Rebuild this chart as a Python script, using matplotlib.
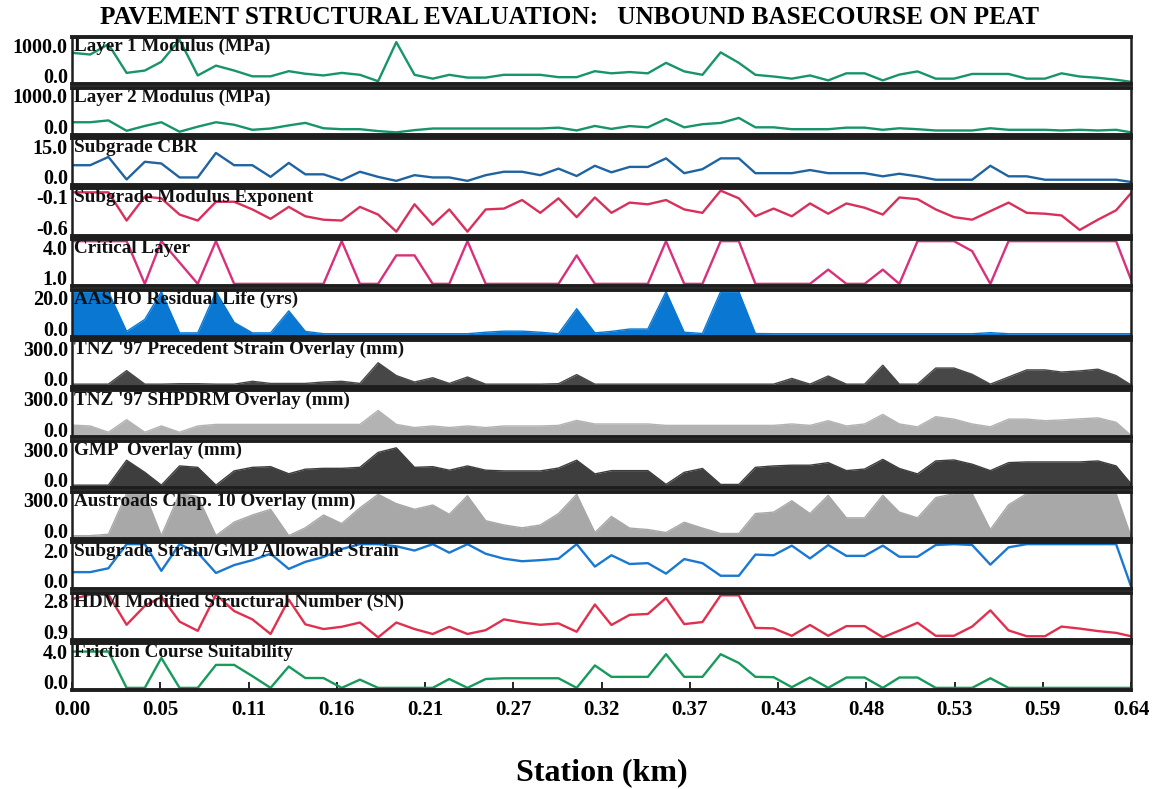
import numpy as np
import matplotlib
matplotlib.use("Agg")
import matplotlib.pyplot as plt
import matplotlib.transforms as mtransforms

plt.rcParams['font.family'] = ['Liberation Serif', 'DejaVu Serif']
plt.rcParams['font.weight'] = 'bold'

# station chainage (m)
station_m = [0, 11, 22, 33, 44, 54, 65, 76, 87, 98, 109, 120, 131, 141, 152, 163, 174, 185,
             196, 207, 218, 228, 239, 250, 261, 272, 283, 294, 305, 316, 326, 337, 348, 359,
             370, 381, 392, 403, 413, 424, 435, 446, 457, 468, 479, 490, 500, 511, 522, 533,
             544, 555, 566, 577, 588, 598, 609, 620, 631, 640]

layer1 = [680, 640, 880, 210, 265, 470, 985, 150, 380, 265, 130, 130, 250, 190, 150, 210, 165, 15,
          930, 165, 75, 165, 100, 100, 165, 165, 165, 110, 110, 250, 200, 230, 200, 445, 245, 165,
          690, 445, 165, 125, 75, 150, 35, 200, 200, 35, 170, 245, 75, 75, 185, 185, 185, 75, 75,
          200, 125, 95, 50, 0]
layer2 = [237, 237, 280, 37, 150, 237, 15, 133, 237, 178, 60, 90, 163, 222, 96, 74, 74, 30,
          0, 52, 90, 90, 90, 90, 90, 90, 90, 110, 45, 150, 81, 147, 118, 316, 118, 191,
          220, 338, 118, 118, 74, 74, 74, 110, 110, 60, 96, 74, 44, 44, 44, 96, 60, 60, 60,
          44, 60, 44, 60, 0]
cbr = [6.2, 6.2, 9.1, 1.2, 7.4, 6.8, 1.9, 1.9, 10.5, 6.2, 6.2, 2.1, 7.0, 3.0, 3.0, 0.9, 3.9, 2.1,
       0.7, 2.7, 1.9, 1.9, 0.7, 2.7, 3.9, 3.9, 2.7, 5.0, 2.4, 6.0, 3.7, 5.6, 5.6, 8.6, 3.4, 4.8,
       8.6, 8.6, 3.4, 3.4, 3.4, 4.5, 3.4, 3.4, 3.4, 2.3, 3.2, 2.3, 1.1, 1.1, 1.1, 6.0, 2.3, 2.3,
       1.1, 1.1, 1.1, 1.1, 1.1, 0.3]
exponent = [-0.12, -0.12, -0.12, -0.45, -0.17, -0.19, -0.38, -0.45, -0.23, -0.23, -0.32, -0.43,
            -0.29, -0.40, -0.44, -0.45, -0.29, -0.38, -0.58, -0.26, -0.50, -0.32, -0.58, -0.32,
            -0.31, -0.21, -0.36, -0.19, -0.41, -0.18, -0.36, -0.24, -0.26, -0.21, -0.32, -0.36,
            -0.10, -0.19, -0.40, -0.31, -0.40, -0.25, -0.37, -0.25, -0.30, -0.38, -0.18, -0.20,
            -0.32, -0.41, -0.44, -0.34, -0.24, -0.36, -0.37, -0.39, -0.56, -0.44, -0.33, -0.13]
critical = [4, 4, 4, 4, 1, 4, 2.5, 1, 4, 1, 1, 1, 1, 1, 1, 4, 1, 1, 3, 3, 1, 1, 4, 1, 1, 1, 1, 1,
            3, 1, 1, 1, 1, 4, 1, 1, 4, 4, 1, 1, 1, 1, 2, 1, 1, 2, 1, 4, 4, 4, 3.3, 1, 4, 4, 4, 4,
            4, 4, 4, 1.3]
aasho = [20, 20, 20, 1.4, 7, 20, 0.7, 0.7, 20, 5.6, 0.7, 0.7, 11, 1.4, 0.3, 0.3, 0.3, 0.3,
         0.3, 0.3, 0.3, 0.3, 0.3, 1.0, 1.5, 1.5, 1.0, 0.3, 12, 0.7, 1.4, 2.5, 2.5, 20, 1.0, 0.4,
         20, 20, 0.4, 0.3, 0.3, 0.3, 0.3, 0.3, 0.3, 0.3, 0.3, 0.3, 0.3, 0.3, 0.3, 0.8, 0.3, 0.3,
         0.3, 0.3, 0.3, 0.3, 0.3, 0.3]
tnz_prec = [5, 5, 5, 100, 5, 5, 8, 8, 5, 5, 25, 10, 10, 10, 20, 25, 10, 155, 65, 20, 50, 10,
            55, 5, 5, 5, 5, 8, 72, 5, 5, 5, 5, 5, 5, 5, 5, 5, 5, 5, 45, 5, 62, 5, 5, 138, 5, 5,
            118, 118, 74, 5, 55, 105, 105, 90, 98, 110, 65, 0]
shpdrm = [72, 66, 22, 110, 22, 66, 22, 66, 77, 77, 77, 77, 77, 77, 77, 77, 77, 175, 77, 55, 66,
          55, 66, 55, 66, 66, 66, 70, 105, 80, 80, 80, 80, 70, 70, 70, 70, 70, 70, 70, 80, 70,
          103, 66, 80, 147, 80, 60, 131, 114, 80, 60, 114, 114, 103, 108, 116, 123, 92, 0]
gmp = [5, 5, 5, 180, 95, 5, 140, 130, 5, 105, 130, 135, 85, 117, 123, 123, 130, 235, 267, 130,
       135, 110, 140, 110, 105, 105, 105, 125, 180, 84, 107, 107, 107, 10, 95, 122, 10, 10, 130,
       140, 145, 145, 163, 107, 118, 186, 122, 84, 175, 182, 152, 107, 163, 168, 168, 168, 168,
       175, 140, 15]
austroads = [5, 5, 15, 300, 300, 5, 300, 280, 5, 100, 150, 190, 5, 60, 150, 90, 200, 295, 230,
             190, 220, 155, 285, 110, 80, 60, 80, 160, 295, 27, 140, 58, 48, 27, 99, 58, 20, 20,
             160, 170, 250, 160, 288, 130, 130, 288, 170, 130, 272, 300, 300, 48, 222, 300, 300,
             300, 300, 300, 300, 0]
strain = [0.69, 0.69, 0.87, 2.0, 2.0, 0.75, 2.0, 1.6, 0.65, 1.02, 1.25, 1.55, 0.84, 1.17, 1.4,
          1.77, 2.0, 2.0, 1.9, 1.7, 2.0, 1.6, 2.0, 1.55, 1.32, 1.2, 1.25, 1.32, 2.0, 0.95, 1.48,
          1.07, 1.11, 0.62, 1.3, 1.11, 0.52, 0.52, 1.51, 1.48, 1.93, 1.33, 1.96, 1.45, 1.45, 1.93,
          1.41, 1.41, 1.96, 2.0, 1.96, 1.04, 1.85, 2.0, 2.0, 2.0, 2.0, 2.0, 2.0, 0.03]
hdm_sn = [2.6, 2.8, 2.8, 1.46, 2.3, 2.7, 1.6, 1.19, 2.8, 2.07, 1.7, 1.05, 2.58, 1.48, 1.27, 1.37,
          1.56, 0.9, 1.56, 1.27, 1.05, 1.37, 1.05, 1.22, 1.7, 1.56, 1.46, 1.52, 1.15, 2.36, 1.45,
          1.9, 1.94, 2.65, 1.49, 1.58, 2.77, 2.77, 1.32, 1.3, 0.97, 1.45, 0.97, 1.4, 1.4, 0.9,
          1.2, 1.55, 0.97, 0.97, 1.38, 2.1, 1.21, 0.95, 0.95, 1.38, 1.29, 1.18, 1.1, 0.95]
friction = [3.4, 3.4, 3.4, 0, 0, 2.8, 0, 0, 2.15, 2.15, 1.1, 0, 2.0, 0.92, 0.92, 0, 0.77, 0, 0,
            0, 0, 0.83, 0, 0.83, 0.9, 0.9, 0.9, 0.9, 0, 2.1, 1.03, 1.03, 1.03, 3.15, 1.03, 1.03,
            3.15, 2.33, 1.03, 1.0, 0.06, 0.97, 0, 0.97, 0.97, 0, 0.97, 0.97, 0, 0, 0, 0.9, 0, 0,
            0, 0, 0, 0, 0, 0]

xtick_labels = ['0.00', '0.05', '0.11', '0.16', '0.21', '0.27', '0.32', '0.37', '0.43',
                '0.48', '0.53', '0.59', '0.64']

# (title, data, y range, range labels, kind, colour)
panels = [
    ("Layer 1 Modulus (MPa)", layer1, (0, 1000), ("0.0", "1000.0"), "line", "#17946a"),
    ("Layer 2 Modulus (MPa)", layer2, (0, 1000), ("0.0", "1000.0"), "line", "#17946a"),
    ("Subgrade CBR", cbr, (0, 15), ("0.0", "15.0"), "line", "#1f64a0"),
    ("Subgrade Modulus Exponent", exponent, (-0.6, -0.1), ("-0.6", "-0.1"), "line", "#d8305a"),
    ("Critical Layer", critical, (1, 4), ("1.0", "4.0"), "line", "#d8307a"),
    ("AASHO Residual Life (yrs)", aasho, (0, 20), ("0.0", "20.0"), "fill", "#0a78d2"),
    ("TNZ '97 Precedent Strain Overlay (mm)", tnz_prec, (0, 300), ("0.0", "300.0"), "fill", "#474747"),
    ("TNZ '97 SHPDRM Overlay (mm)", shpdrm, (0, 300), ("0.0", "300.0"), "fill", "#b3b3b3"),
    ("GMP  Overlay (mm)", gmp, (0, 300), ("0.0", "300.0"), "fill", "#3e3e3e"),
    ("Austroads Chap. 10 Overlay (mm)", austroads, (0, 300), ("0.0", "300.0"), "fill", "#a8a8a8"),
    ("Subgrade Strain/GMP Allowable Strain", strain, (0, 2.0), ("0.0", "2.0"), "line", "#1a78d0"),
    ("HDM Modified Structural Number (SN)", hdm_sn, (0.9, 2.8), ("0.9", "2.8"), "line", "#e0304e"),
    ("Friction Course Suitability", friction, (0, 4), ("0.0", "4.0"), "line", "#179a5c"),
]

W, H = 1152, 789
fig = plt.figure(figsize=(W / 100, H / 100), dpi=100)
fig.patch.set_facecolor('white')

x = np.array(station_m) / 1000.0
left, right = 72, 1131
top0, step, ph = 37, 50.5, 47

for k, (name, vals, (lo, hi), (lab_lo, lab_hi), kind, col) in enumerate(panels):
    t = top0 + k * step
    ax = fig.add_axes([left / W, 1 - (t + ph) / H, (right - left) / W, ph / H])
    v = np.array(vals, dtype=float)
    pad = 0.05 * (hi - lo)  # keep lines at the limits visible inside the thick frame
    if kind == "fill":
        ax.fill_between(x, lo - pad, v, color=col, lw=0, zorder=2)
        ax.plot(x, v, color=col, lw=1.0, zorder=2)
    else:
        ax.plot(x, v, color=col, lw=1.7, zorder=2)
    ax.set_xlim(0, 0.64)
    ax.set_ylim(lo - pad, hi + pad)
    ax.set_yticks([lo, hi])
    ax.set_yticklabels([lab_lo, lab_hi], fontsize=14.5, fontweight='bold')
    ax.tick_params(axis='y', length=0, pad=3)
    tl = ax.get_yticklabels()
    tl[0].set_transform(tl[0].get_transform() +
                        mtransforms.ScaledTranslation(0, 6 / 100, fig.dpi_scale_trans))
    tl[1].set_transform(tl[1].get_transform() +
                        mtransforms.ScaledTranslation(0, -6 / 100, fig.dpi_scale_trans))
    for side, s in ax.spines.items():
        s.set_color('#1e1e1e')
        s.set_linewidth(2.8 if side in ('top', 'bottom') else 1.8)
        s.set_zorder(6)
    ax.text(0.002, 0.98, name, transform=ax.transAxes, ha='left', va='top',
            fontsize=13.8, fontweight='bold', color='#111111', zorder=5)
    if k < len(panels) - 1:
        ax.set_xticks([])
    else:
        ax.set_xticks(np.linspace(0, 0.64, len(xtick_labels)))
        ax.set_xticklabels(xtick_labels, fontsize=15, fontweight='bold')
        ax.tick_params(axis='x', direction='in', length=6, width=1.2, pad=7)

fig.text(0.494, 1 - 18 / H, "PAVEMENT STRUCTURAL EVALUATION:   UNBOUND BASECOURSE ON PEAT",
         ha='center', va='center', fontsize=18.2, fontweight='bold')
fig.text(0.522, 1 - 773 / H, "Station (km)", ha='center', va='center',
         fontsize=23, fontweight='bold')

fig.savefig("out.png", dpi=100, facecolor='white')
